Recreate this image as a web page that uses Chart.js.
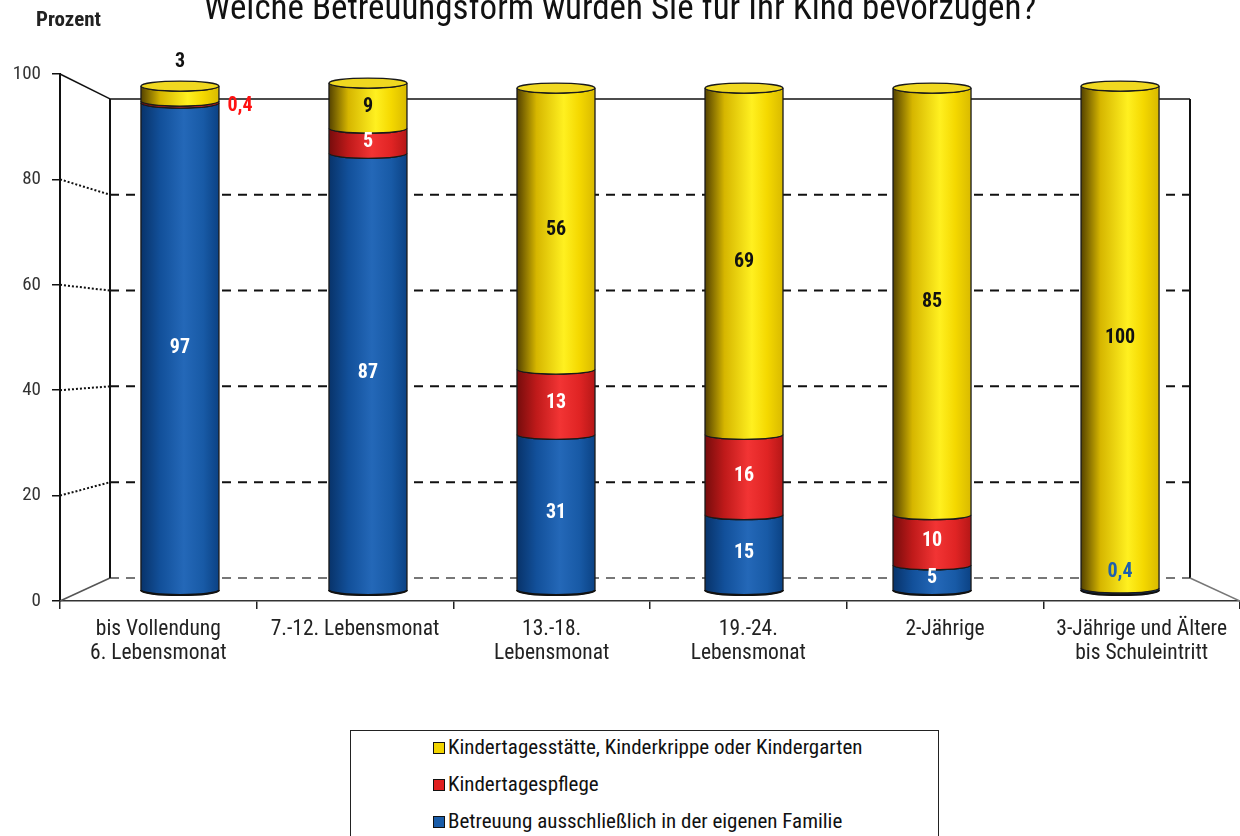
<!DOCTYPE html>
<html lang="de">
<head>
<meta charset="utf-8">
<title>Betreuungsform</title>
<script src="https://cdn.jsdelivr.net/npm/chart.js@4.4.1/dist/chart.umd.min.js"></script>
<style>
  html, body { margin: 0; padding: 0; background: #fff; }
  #wrap { position: relative; width: 1240px; height: 836px; overflow: hidden; }
  #chart { position: absolute; left: 0; top: 0; }
  #prozent {
    position: absolute; left: 36px; top: 7px;
    font: bold 21px "Roboto Condensed", "Liberation Sans", Arial, sans-serif;
    color: #222;
  }
  #legend {
    position: absolute; left: 350px; top: 730px; width: 589px; height: 120px;
    border: 1px solid #222; box-sizing: border-box;
    font: 21px "Roboto Condensed", "Liberation Sans", Arial, sans-serif;
    color: #111;
  }
  #legend .item { position: absolute; left: 82px; height: 26px; line-height: 26px; white-space: nowrap; }
  #legend .box {
    display: inline-block; width: 10px; height: 10px; border: 1.5px solid #111;
    margin-right: 3px; vertical-align: 0px;
  }
</style>
</head>
<body>
<div id="wrap">
  <canvas id="chart" width="1240" height="700"></canvas>
  <div id="prozent">Prozent</div>
  <div id="legend"></div>
</div>

<script>
// ---------- data ----------
const categories = [
  ["bis Vollendung", "6. Lebensmonat"],
  ["7.-12. Lebensmonat"],
  ["13.-18.", "Lebensmonat"],
  ["19.-24.", "Lebensmonat"],
  ["2-Jährige"],
  ["3-Jährige und Ältere", "bis Schuleintritt"]
];
const seriesNames = [
  "Betreuung ausschließlich in der eigenen Familie",
  "Kindertagespflege",
  "Kindertagesstätte, Kinderkrippe oder Kindergarten"
];
const familie = [97, 87, 31, 15, 5, 0.4];
const pflege = [0.4, 5, 13, 16, 10, 0];
const kita = [3, 9, 56, 69, 85, 100];
const yTicks = [0, 20, 40, 60, 80, 100];
const titleText = "Welche Betreuungsform würden Sie für Ihr Kind bevorzugen?";

// ---------- styles ----------
const FONT = "'Roboto Condensed', 'Liberation Sans', Arial, sans-serif";
const flatColors = ["#1a5ca8", "#e02020", "#f2d400"];
const gradStops = [
  [[0, "#08336a"], [0.25, "#12509a"], [0.55, "#2468b8"], [0.8, "#185aa6"], [1, "#0b4284"]],
  [[0, "#760c0c"], [0.25, "#bf1a1a"], [0.55, "#f23434"], [0.8, "#e02424"], [1, "#b51717"]],
  [[0, "#544200"], [0.25, "#d6b600"], [0.6, "#fff020"], [0.8, "#f4d800"], [1, "#d9ba00"]]
];
const capColors = ["#2262ae", "#e43030", "#f0d820"];
const labelColors = ["#ffffff", "#ffffff", "#111111"];
const smallLabelColors = ["#1d5fae", "#ff1010", "#111111"];
const RY = 5; // half height of the cylinder ellipses

const fmt = (v) => String(v).replace(".", ",");

// ---------- 3D frame + cylinders + value labels ----------
const cylinderPlugin = {
  id: "cylinders",
  beforeDatasetsDraw(chart) {
    const { ctx, chartArea: a, scales } = chart;
    const yF = scales.y, yB = scales.yBack;
    const bl = a.left + 50, br = a.right - 50;

    ctx.save();
    // back wall grid + left side wall
    yTicks.forEach((v) => {
      const yb = yB.getPixelForValue(v);
      const yf = yF.getPixelForValue(v);
      ctx.beginPath();
      ctx.setLineDash(v === 100 ? [] : [9, 7]);
      ctx.lineWidth = v === 100 ? 1.5 : 2;
      ctx.strokeStyle = v === 0 ? "#777" : "#111";
      ctx.moveTo(bl, yb);
      ctx.lineTo(br, yb);
      ctx.stroke();

      ctx.beginPath();
      ctx.setLineDash(v === 100 || v === 0 ? [] : [2, 2]);
      ctx.lineWidth = v === 100 || v === 0 ? 1.5 : 2;
      ctx.strokeStyle = v === 0 ? "#555" : "#111";
      ctx.moveTo(a.left, yf);
      ctx.lineTo(bl, yb);
      ctx.stroke();
    });
    ctx.setLineDash([]);
    ctx.lineWidth = 2;
    ctx.strokeStyle = "#111";
    [bl, br].forEach((x) => {
      ctx.beginPath();
      ctx.moveTo(x, yB.getPixelForValue(100));
      ctx.lineTo(x, yB.getPixelForValue(0));
      ctx.stroke();
    });
    // floor right edge
    ctx.beginPath();
    ctx.lineWidth = 1.5;
    ctx.strokeStyle = "#777";
    ctx.moveTo(br, yB.getPixelForValue(0));
    ctx.lineTo(a.right, yF.getPixelForValue(0));
    ctx.stroke();

    const metas = chart.data.datasets.map((d, i) => chart.getDatasetMeta(i));
    categories.forEach((c, i) => {
      const segs = [];
      metas.forEach((m, d) => {
        const el = m.data[i];
        const v = chart.data.datasets[d].data[i].y;
        if (v > 0) segs.push({ d, el, v });
      });
      segs.forEach((s, k) => {
        const { x, y, base, width } = s.el;
        const r = width / 2;
        const g = ctx.createLinearGradient(x - r, 0, x + r, 0);
        gradStops[s.d].forEach(([p, col]) => g.addColorStop(p, col));
        ctx.beginPath();
        ctx.moveTo(x - r, y);
        ctx.ellipse(x, y, r, RY, 0, Math.PI, 0, true);
        ctx.lineTo(x + r, base);
        ctx.ellipse(x, base, r, RY, 0, 0, Math.PI, false);
        ctx.closePath();
        ctx.fillStyle = g;
        ctx.fill();
        ctx.lineWidth = 1.3;
        ctx.strokeStyle = "#1a1a1a";
        ctx.stroke();
        if (k === 0) {
          ctx.beginPath();
          ctx.ellipse(x, base, r, RY, 0, 0, Math.PI, false);
          ctx.lineWidth = 2.2;
          ctx.strokeStyle = "#111";
          ctx.stroke();
        }
        if (k === segs.length - 1) {
          ctx.beginPath();
          ctx.ellipse(x, y, r, RY, 0, 0, Math.PI * 2);
          ctx.fillStyle = capColors[s.d];
          ctx.fill();
          ctx.lineWidth = 1.3;
          ctx.strokeStyle = "#1a1a1a";
          ctx.stroke();
        }
      });

      ctx.font = "bold 20px " + FONT;
      ctx.textAlign = "center";
      ctx.textBaseline = "middle";
      segs.forEach((s, k) => {
        const { x, y, base, width } = s.el;
        const h = base - y;
        const txt = fmt(s.v);
        if (h >= 16) {
          ctx.fillStyle = labelColors[s.d];
          ctx.fillText(txt, x, (y + base) / 2 + 1);
        } else if (k === segs.length - 1) {
          ctx.fillStyle = smallLabelColors[s.d];
          ctx.fillText(txt, x, y - 24);
        } else if (k === 0 && s.d === 0 && segs.length > 1 && s.v < 1) {
          ctx.fillStyle = smallLabelColors[s.d];
          ctx.fillText(txt, x, base - 18);
        } else {
          ctx.fillStyle = smallLabelColors[s.d];
          ctx.fillText(txt, x + width / 2 + 21, (y + base) / 2 + 4);
        }
      });
    });
    ctx.restore();
    return false; // cylinders replace the flat bars
  }
};

// ---------- chart ----------
const mkData = (arr) => arr.map((v, i) => ({ x: i, y: v }));

new Chart(document.getElementById("chart"), {
  type: "bar",
  data: {
    labels: categories,
    datasets: [familie, pflege, kita].map((arr, d) => ({
      label: seriesNames[d],
      data: mkData(arr),
      xAxisID: "xBar",
      yAxisID: "yBar",
      backgroundColor: flatColors[d],
      barThickness: 78
    }))
  },
  options: {
    responsive: false,
    animation: false,
    events: [],
    layout: { padding: 0 },
    plugins: {
      legend: { display: false },
      tooltip: { enabled: false },
      title: {
        display: true,
        text: titleText,
        color: "#111",
        font: { family: FONT, size: 35, weight: "normal", lineHeight: 1.2 },
        padding: { top: -11, bottom: 43 }
      }
    },
    scales: {
      x: {
        type: "category",
        offset: true,
        grid: { offset: true, drawOnChartArea: false, tickLength: 8, color: "#222", lineWidth: 1.5 },
        border: { color: "#333", width: 1.5 },
        ticks: {
          color: "#222",
          font: { family: FONT, size: 21.5, lineHeight: 1.15 },
          padding: 8,
          maxRotation: 0,
          autoSkip: false
        },
        afterFit(s) { s.height = 99; }
      },
      y: {
        type: "linear",
        position: "left",
        min: 0,
        max: 100,
        grid: { drawOnChartArea: false, tickLength: 8, color: "#111", lineWidth: 1.5 },
        border: { color: "#111", width: 2 },
        ticks: {
          stepSize: 20,
          color: "#333",
          font: { family: FONT, size: 19 },
          padding: 11
        },
        afterFit(s) { s.width = 60; }
      },
      xBar: { type: "linear", axis: "x", display: false, offset: false, stacked: true, min: -0.638, max: 5.638 },
      yBar: { type: "linear", axis: "y", display: false, stacked: true, min: -2.19, max: 102.8 },
      yBack: { type: "linear", axis: "y", display: false, min: -4.8, max: 105.2 }
    }
  },
  plugins: [cylinderPlugin]
});

// ---------- legend (top entry = top of the stack) ----------
const legendEl = document.getElementById("legend");
[2, 1, 0].forEach((d, row) => {
  const item = document.createElement("div");
  item.className = "item";
  item.style.top = (3 + row * 37) + "px";
  const box = document.createElement("span");
  box.className = "box";
  box.style.background = flatColors[d];
  item.appendChild(box);
  item.appendChild(document.createTextNode(seriesNames[d]));
  legendEl.appendChild(item);
});
</script>
</body>
</html>
